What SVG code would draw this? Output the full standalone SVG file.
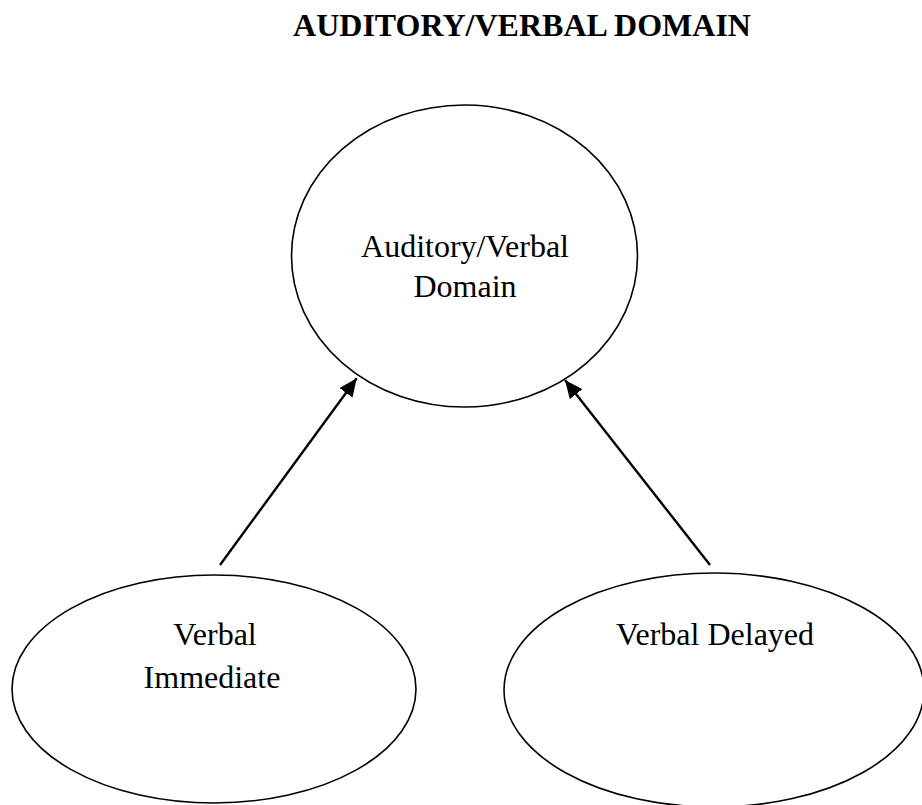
<svg xmlns="http://www.w3.org/2000/svg" width="922" height="805" viewBox="0 0 922 805">
<style>
.node{fill:#fff;stroke:#000;stroke-width:1.6}
.lbl{font-family:"Liberation Serif","Times New Roman",serif;font-size:32px;fill:#000;text-anchor:middle}
.title{font-family:"Liberation Serif","Times New Roman",serif;font-size:32px;font-weight:bold;fill:#000;text-anchor:middle}
.edge{stroke:#000;stroke-width:2.4;fill:none}
</style>
<defs>
<marker id="arr" markerUnits="userSpaceOnUse" markerWidth="20" markerHeight="16" refX="18" refY="8" orient="auto">
<path d="M0,0 L18,8 L0,16 z" fill="#000"/>
</marker>
</defs>
<rect width="922" height="805" fill="#fff"/>
<text class="title" x="522" y="36">AUDITORY/VERBAL DOMAIN</text>
<g id="auditory-verbal">
<ellipse class="node" cx="464.5" cy="256" rx="173" ry="151"/>
<text class="lbl" x="465" y="257">Auditory/Verbal</text>
<text class="lbl" x="465" y="297">Domain</text>
</g>
<g id="verbal-immediate">
<ellipse class="node" cx="214" cy="689" rx="202" ry="114"/>
<text class="lbl" x="215" y="645">Verbal</text>
<text class="lbl" x="212" y="688">Immediate</text>
</g>
<g id="verbal-delayed">
<ellipse class="node" cx="714" cy="690" rx="210" ry="117"/>
<text class="lbl" x="715" y="645">Verbal Delayed</text>
</g>
<g id="connectors">
<line class="edge" x1="220" y1="565" x2="356.7" y2="378.3" marker-end="url(#arr)"/>
<line class="edge" x1="710" y1="565" x2="565" y2="380" marker-end="url(#arr)"/>
</g>
</svg>
